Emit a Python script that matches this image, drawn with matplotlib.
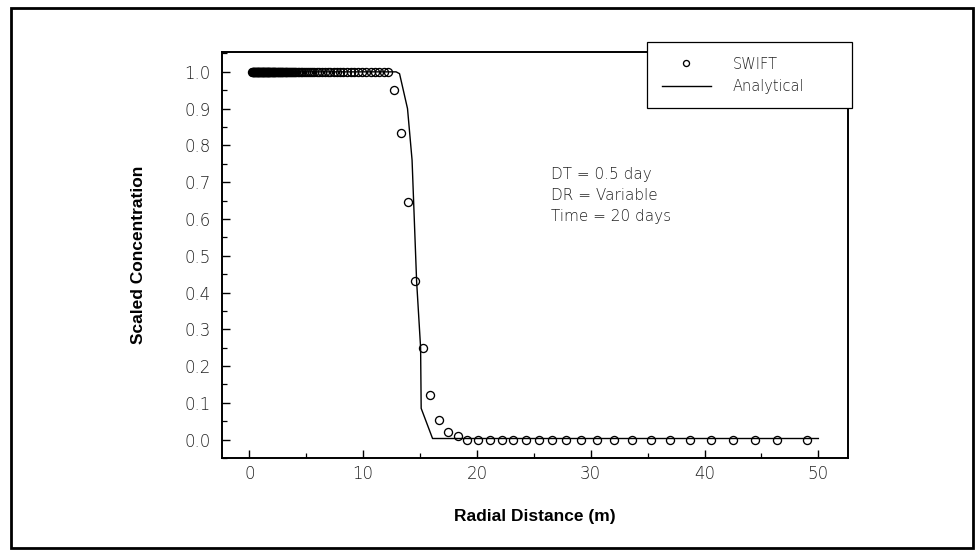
import matplotlib
matplotlib.use('Agg')
import matplotlib.pyplot as plt
from matplotlib.patches import Rectangle
from matplotlib.ticker import MultipleLocator

# SWIFT simulation (circles)
# cells still at full concentration (C = 1.0)
plateau_r = [0.24, 0.28, 0.32, 0.36, 0.40, 0.44, 0.48, 0.52, 0.56, 0.60, 0.64, 0.68,
             0.72, 0.76, 0.80, 0.84, 0.88, 0.92, 0.96, 1.00, 1.04, 1.08, 1.12, 1.16,
             1.20, 1.24, 1.28, 1.32, 1.36, 1.40, 1.44, 1.48, 1.52, 1.56, 1.60, 1.64,
             1.68, 1.72, 1.76, 1.80, 1.85, 1.90, 1.95, 2.00, 2.05, 2.10, 2.15, 2.20,
             2.25, 2.30, 2.36, 2.42, 2.48, 2.54, 2.60, 2.66, 2.72, 2.78, 2.84, 2.90,
             2.97, 3.04, 3.11, 3.18, 3.25, 3.32, 3.40, 3.48, 3.56, 3.64, 3.72, 3.81,
             3.90, 3.99, 4.11, 4.24, 4.38, 4.52, 4.67, 4.82, 4.98, 5.15, 5.33, 5.52,
             5.72, 5.93, 6.15, 6.38, 6.62, 6.87, 7.13, 7.40, 7.68, 7.97, 8.27, 8.58,
             8.90, 9.23, 9.57, 9.92, 10.28, 10.65, 11.03, 11.42, 11.82, 12.22]
# cells in the front
front_r = [12.75, 13.35, 13.97, 14.60, 15.23, 15.90, 16.70, 17.44, 18.30]
front_c = [0.95, 0.835, 0.645, 0.432, 0.248, 0.121, 0.053, 0.021, 0.0095]
# cells ahead of the front (C = 0)
tail_r = [19.16, 20.13, 21.13, 22.16, 23.21, 24.30, 25.41, 26.58, 27.82, 29.14,
          30.55, 32.07, 33.63, 35.30, 37.00, 38.76, 40.58, 42.46, 44.39, 46.39, 48.97]

swift_r = plateau_r + front_r + tail_r
swift_c = [1.0] * len(plateau_r) + front_c + [0.0] * len(tail_r)

# analytical solution (line)
anal_r = [0.24, 12.9, 13.2, 13.9, 14.3, 14.7, 15.05, 15.1, 16.1, 50.0]
anal_c = [1.0, 1.0, 0.995, 0.9, 0.76, 0.43, 0.25, 0.085, 0.003, 0.003]

xticks = [0, 10, 20, 30, 40, 50]
yticks = [0.0, 0.1, 0.2, 0.3, 0.4, 0.5, 0.6, 0.7, 0.8, 0.9, 1.0]

tick_font = {'family': 'DejaVu Sans', 'weight': 200}
lab_font = {'family': 'Liberation Sans', 'weight': 'bold'}

fig = plt.figure(figsize=(9.75, 5.52), dpi=100)
ax = fig.add_axes([0.2277, 0.1703, 0.642, 0.7355])

ax.plot(swift_r, swift_c, 'o', mfc='none', mec='black', ms=5.8, mew=0.95,
        label='SWIFT', zorder=3)
ax.plot(anal_r, anal_c, '-', color='black', lw=1.0, label='Analytical', zorder=2)

ax.set_xlim(-2.4, 52.6)
ax.set_ylim(-0.05, 1.054)
ax.set_xticks(xticks)
ax.set_yticks(yticks)
ax.set_xticklabels([str(v) for v in xticks], fontdict=tick_font, fontsize=12, color='#222222')
ax.set_yticklabels(['%.1f' % v for v in yticks], fontdict=tick_font, fontsize=12, color='#222222')
ax.xaxis.set_minor_locator(MultipleLocator(5))
ax.yaxis.set_minor_locator(MultipleLocator(0.05))
ax.tick_params(which='major', direction='in', length=6, width=1.0, top=False, right=False)
ax.tick_params(which='minor', direction='in', length=3.5, width=0.9, top=False, right=False)
ax.tick_params(axis='y', which='major', pad=8)
ax.tick_params(axis='x', which='major', pad=5)
for s in ax.spines.values():
    s.set_linewidth(1.4)

ax.set_xlabel('Radial Distance (m)', fontdict=lab_font, fontsize=12.5)
ax.set_ylabel('Scaled Concentration', fontdict=lab_font, fontsize=12.5)
ax.xaxis.set_label_coords(0.5, -0.125)
ax.yaxis.set_label_coords(-0.122, 0.5)

ax.text(26.5, 0.663, 'DT = 0.5 day\nDR = Variable\nTime = 20 days', fontdict=tick_font,
        fontsize=11, color='#222222', va='center', ha='left', linespacing=1.5)

leg = ax.legend(loc='upper left', bbox_to_anchor=(0.6636, 0.797, 0.2103, 0.127),
                bbox_transform=fig.transFigure, mode='expand', borderaxespad=0,
                frameon=True, fancybox=False, edgecolor='black', framealpha=1,
                prop={'family': 'DejaVu Sans', 'weight': 200, 'size': 10.5},
                handlelength=3.4, handletextpad=1.45, borderpad=1.0,
                labelspacing=0.5, markerscale=0.75)
leg.get_frame().set_linewidth(0.9)
for t in leg.get_texts():
    t.set_color('#222222')

# outer frame
fig.patches.append(Rectangle((11 / 975, 1 - 548 / 552), 962 / 975, 540 / 552,
                             transform=fig.transFigure, fill=False, lw=2.0,
                             edgecolor='black'))

fig.savefig('out.png', dpi=100)
